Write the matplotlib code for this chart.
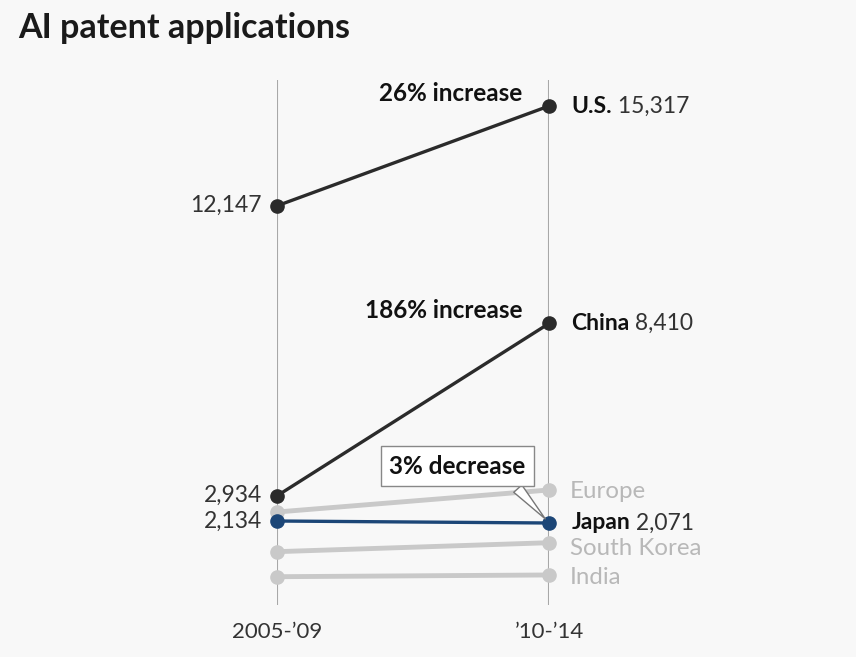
import matplotlib.pyplot as plt

periods = ["2005-\u201909", "\u201910-\u201914"]
countries = ["India", "South Korea", "Europe", "Japan", "China", "U.S."]
start_vals = [365, 1160, 2420, 2134, 2934, 12147]
end_vals = [420, 1445, 3120, 2071, 8410, 15317]
changes = {"U.S.": "26% increase", "China": "186% increase", "Japan": "3% decrease"}

BG = "#f8f8f8"
DARK = "#2b2b2b"
GRAY = "#c9c9c9"
BLUE = "#1c4677"
TXT = "#333333"

# little nudges so the gray labels don't crowd the Japan label
label_dy = {"Europe": -1, "South Korea": -4.5, "India": -2}

plt.rcParams["font.family"] = ["Lato", "DejaVu Sans"]


def main():
    fig = plt.figure(figsize=(8.56, 6.57), dpi=100, facecolor=BG)
    ax = fig.add_axes([277 / 856, 52 / 657, 272 / 856, 525 / 657])
    ax.set_facecolor(BG)
    ax.set_xlim(0, 1)
    ax.set_ylim(-534, 16144)
    for s in ax.spines.values():
        s.set_visible(False)
    ax.set_yticks([])
    ax.set_xticks([0, 1], periods, fontsize=16, color=TXT)
    ax.tick_params(axis="x", length=0, pad=12)
    for xv in (0, 1):
        ax.axvline(xv, color="#a8a8a8", lw=1.5, zorder=1)

    for name, a, b in zip(countries, start_vals, end_vals):
        if name in ("U.S.", "China"):
            col, lw = DARK, 2.4
        elif name == "Japan":
            col, lw = BLUE, 2.4
        else:
            col, lw = GRAY, 3.5
        ax.plot([0, 1], [a, b], color=col, lw=lw, marker="o", ms=9.5,
                clip_on=False, zorder=3 if col != GRAY else 2)

        if col == GRAY:
            ax.annotate(name, (1, b), xytext=(15, label_dy[name]),
                        textcoords="offset points", va="center", ha="left",
                        fontsize=17.3, color="#b8b8b8")
            continue
        t = ax.annotate(name, (1, b), xytext=(16, 0), textcoords="offset points",
                        va="center", ha="left", fontsize=16.5, color="#111111",
                        fontweight="bold")
        ax.annotate(" " + f"{b:,}", xy=(1, 0.5), xycoords=t, va="center",
                    ha="left", fontsize=16.5, color=TXT)
        ax.annotate(f"{a:,}", (0, a), xytext=(-11, 0), textcoords="offset points",
                    va="center", ha="right", fontsize=16.5, color=TXT)
        if name == "Japan":
            ax.annotate(changes[name], (1, b), xytext=(-66, 41),
                        textcoords="offset points", ha="center", va="center",
                        fontsize=17.5, fontweight="bold", color="#111111",
                        bbox=dict(boxstyle="square,pad=0.35", fc="white",
                                  ec="#888888", lw=1),
                        arrowprops=dict(arrowstyle="wedge,tail_width=0.45",
                                        fc="white", ec="#777777", lw=1,
                                        relpos=(0.87, 0), shrinkB=4))
        else:
            ax.annotate(changes[name], (1, b), xytext=(-19, 9),
                        textcoords="offset points", ha="right", va="center",
                        fontsize=17.5, fontweight="bold", color="#111111")

    fig.text(18 / 856, 1 - 28 / 657, "AI patent applications", fontsize=24.5,
             fontweight="bold", color="#1a1a1a", va="center", ha="left")
    fig.savefig("out.png", facecolor=BG)


if __name__ == "__main__":
    main()
